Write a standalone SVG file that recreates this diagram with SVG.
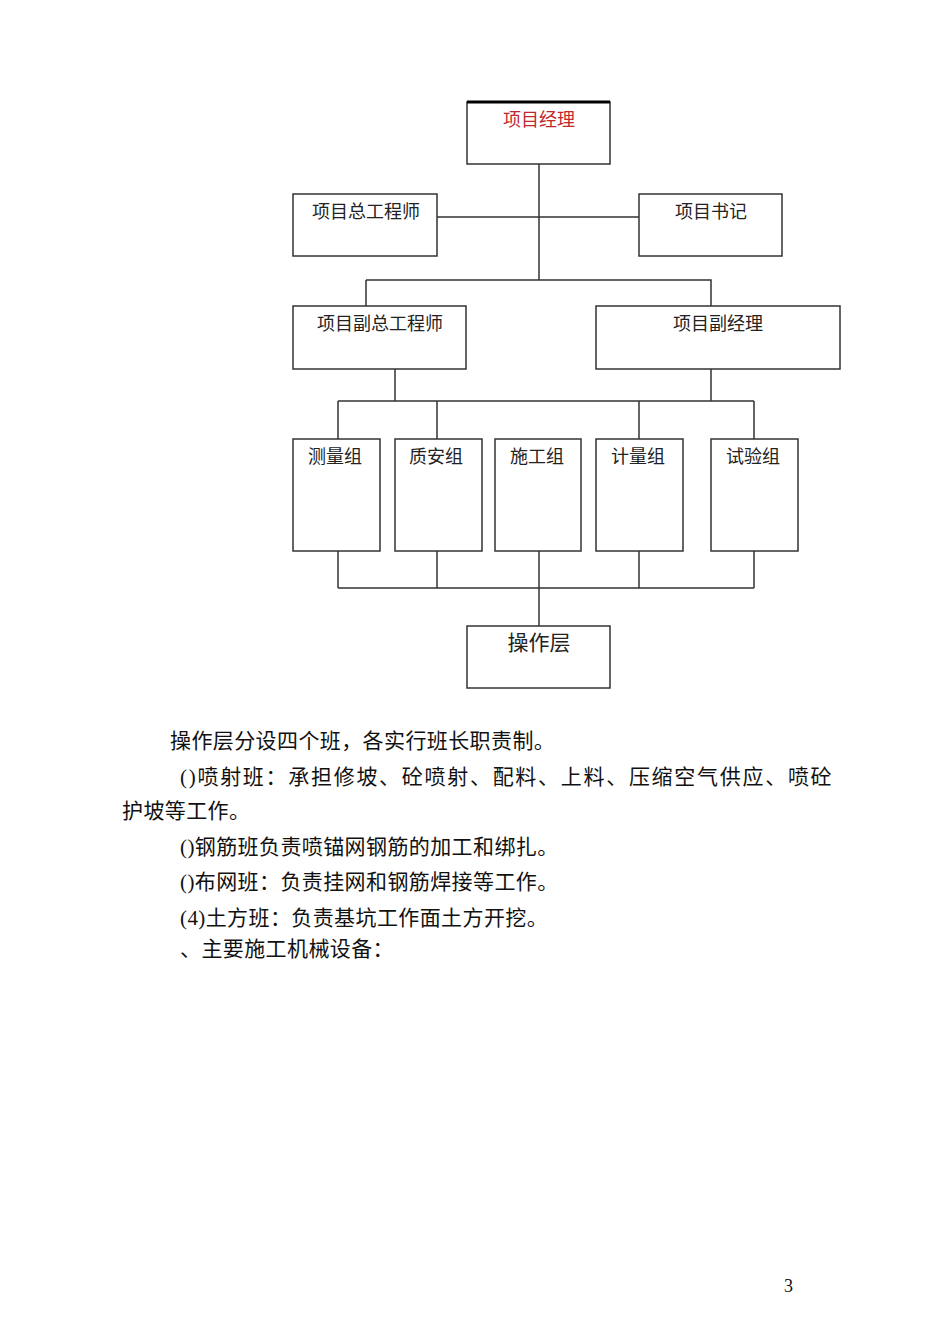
<svg xmlns="http://www.w3.org/2000/svg" width="950" height="1344" viewBox="0 0 950 1344">
<style>
.b{fill:#fff;stroke:#333;stroke-width:1.5}
.l{stroke:#333;stroke-width:1.5;fill:none}
.t{font-family:"Liberation Serif","Noto Sans CJK SC",serif;font-size:18px;fill:#222;text-anchor:middle}
.p{font-family:"Liberation Serif","Noto Sans CJK SC",serif;font-size:21px;fill:#111;letter-spacing:0.4px}
</style>
<rect width="950" height="1344" fill="#fff"/>
<g id="connectors">
<path class="l" d="M539 164V280M437 217H639M366 280H711V306M366 280V306M395 369V401M711 369V401M338 401H754M338 401V439M437 401V439M639 401V439M754 401V439M338 551V588M437 551V588M539 551V626M639 551V588M754 551V588M338 588H754"/>
</g>
<g id="n1"><rect class="b" x="467" y="102" width="143" height="62"/><line x1="467" y1="102" x2="610" y2="102" stroke="#000" stroke-width="3"/><text class="t" x="539" y="126" style="fill:#c0282d">项目经理</text></g>
<g id="n2"><rect class="b" x="293" y="194" width="144" height="62"/><text class="t" x="366" y="218">项目总工程师</text></g>
<g id="n3"><rect class="b" x="639" y="194" width="143" height="62"/><text class="t" x="711" y="218">项目书记</text></g>
<g id="n4"><rect class="b" x="293" y="306" width="173" height="63"/><text class="t" x="380" y="330">项目副总工程师</text></g>
<g id="n5"><rect class="b" x="596" y="306" width="244" height="63"/><text class="t" x="718" y="330">项目副经理</text></g>
<g id="n6"><rect class="b" x="293" y="439" width="87" height="112"/><text class="t" x="335" y="463">测量组</text></g>
<g id="n7"><rect class="b" x="395" y="439" width="87" height="112"/><text class="t" x="436" y="463">质安组</text></g>
<g id="n8"><rect class="b" x="495" y="439" width="86" height="112"/><text class="t" x="537" y="463">施工组</text></g>
<g id="n9"><rect class="b" x="596" y="439" width="87" height="112"/><text class="t" x="638" y="463">计量组</text></g>
<g id="n10"><rect class="b" x="711" y="439" width="87" height="112"/><text class="t" x="753" y="463">试验组</text></g>
<g id="n11"><rect class="b" x="467" y="626" width="143" height="62"/><text class="t" x="539" y="650" style="font-size:21px">操作层</text></g>
<text class="p" x="170" y="748">操作层分设四个班，各实行班长职责制。</text>
<text class="p" x="180" y="784" textLength="652" lengthAdjust="spacing">()喷射班：承担修坡、砼喷射、配料、上料、压缩空气供应、喷砼</text>
<text class="p" x="122" y="818">护坡等工作。</text>
<text class="p" x="180" y="854">()钢筋班负责喷锚网钢筋的加工和绑扎。</text>
<text class="p" x="180" y="889">()布网班：负责挂网和钢筋焊接等工作。</text>
<text class="p" x="180" y="925">(4)土方班：负责基坑工作面土方开挖。</text>
<text class="p" x="180" y="956">、主要施工机械设备：</text>
<text class="p" x="784" y="1292" style="font-size:18px">3</text>
</svg>
